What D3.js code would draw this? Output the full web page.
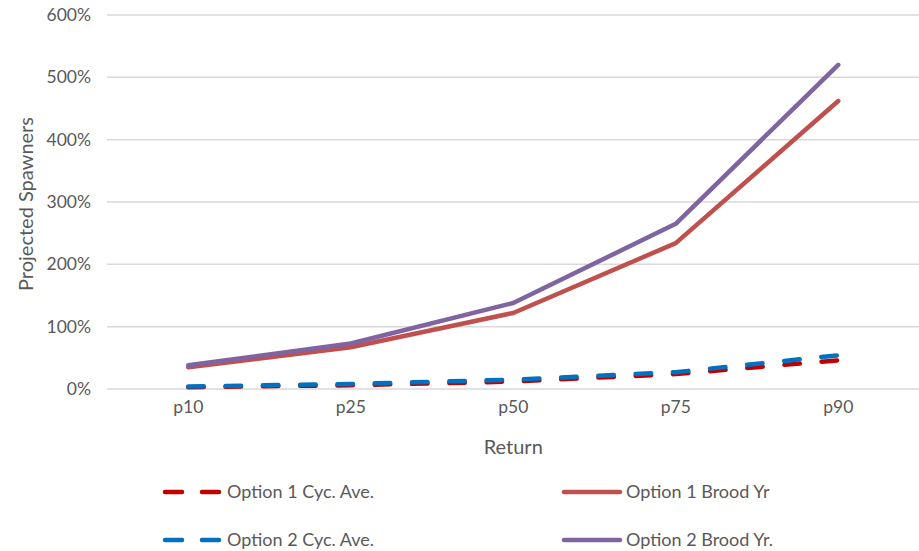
<!DOCTYPE html>
<html>
<head>
<meta charset="utf-8">
<script src="https://cdn.jsdelivr.net/npm/d3@7"></script>
<style>
  html, body { margin: 0; padding: 0; background: #fff; }
  svg { display: block; font-family: Lato, "Open Sans", sans-serif; }
</style>
</head>
<body>
<svg id="chart" width="919" height="551"></svg>
<script>
// Return percentiles
const categories = ["p10", "p25", "p50", "p75", "p90"];

// Projected spawners, as a fraction of the baseline
const opt1CycAve   = [0.03, 0.06, 0.12, 0.24, 0.46];
const opt1BroodYr  = [0.35, 0.67, 1.22, 2.34, 4.62];
const opt2CycAve   = [0.04, 0.08, 0.15, 0.27, 0.54];
const opt2BroodYr  = [0.38, 0.73, 1.38, 2.65, 5.20];

const yTicks = [0, 1, 2, 3, 4, 5, 6];

const series = [
  { name: "Option 1 Cyc. Ave.", values: opt1CycAve,  color: "#C00000", dashed: true },
  { name: "Option 2 Cyc. Ave.", values: opt2CycAve,  color: "#0070C0", dashed: true },
  { name: "Option 1 Brood Yr",  values: opt1BroodYr, color: "#C0504D", dashed: false },
  { name: "Option 2 Brood Yr.", values: opt2BroodYr, color: "#8064A2", dashed: false }
];

const svg = d3.select("#chart");
const textColor = "#595959";

const x = d3.scaleBand().domain(categories).range([107, 919.5]);
const y = d3.scaleLinear().domain([0, 6]).range([389, 15]);

// Horizontal gridlines
svg.append("g")
  .selectAll("line")
  .data(yTicks)
  .join("line")
  .attr("x1", 107).attr("x2", 919)
  .attr("y1", d => y(d)).attr("y2", d => y(d))
  .attr("stroke", "#D9D9D9").attr("stroke-width", 1.5);

// Y axis labels
const yAxis = svg.append("g")
  .attr("transform", "translate(91,0)")
  .call(d3.axisLeft(y).tickValues(yTicks).tickFormat(d3.format(".0%")).tickSize(0).tickPadding(0));
yAxis.select(".domain").remove();
yAxis.selectAll("text").attr("fill", textColor).style("font-size", "17.5px").style("font-family", "Lato, sans-serif");

// X axis labels
const xAxis = svg.append("g")
  .attr("transform", "translate(0,401)")
  .call(d3.axisBottom(x).tickSize(0).tickPadding(0));
xAxis.select(".domain").remove();
xAxis.selectAll("text").attr("fill", textColor).style("font-size", "17.5px").style("font-family", "Lato, sans-serif");

// Axis titles
svg.append("text")
  .attr("x", x("p50") + x.bandwidth() / 2).attr("y", 454)
  .attr("text-anchor", "middle").attr("fill", textColor)
  .style("font-size", "20px").text("Return");

svg.append("text")
  .attr("transform", "translate(33,204) rotate(-90)")
  .attr("text-anchor", "middle").attr("fill", textColor)
  .style("font-size", "20px").text("Projected Spawners");

// Series lines
const line = d3.line()
  .x((d, i) => x(categories[i]) + x.bandwidth() / 2)
  .y(d => y(d));

svg.append("g")
  .selectAll("path")
  .data(series)
  .join("path")
  .attr("d", d => line(d.values))
  .attr("fill", "none")
  .attr("stroke", d => d.color)
  .attr("stroke-width", 4.5)
  .attr("stroke-linejoin", "round")
  .attr("stroke-linecap", "round")
  .attr("stroke-dasharray", d => d.dashed ? "15.5 21.8" : null);

// Legend
const legendItems = [
  { s: series[0], lx: 163, ty: 492 },
  { s: series[2], lx: 562, ty: 492 },
  { s: series[1], lx: 163, ty: 540 },
  { s: series[3], lx: 562, ty: 540 }
];

const lg = svg.append("g");
legendItems.forEach(item => {
  const g = lg.append("g");
  if (item.s.dashed) {
    g.append("line")
      .attr("x1", item.lx + 2).attr("x2", item.lx + 19)
      .attr("y1", item.ty).attr("y2", item.ty)
      .attr("stroke", item.s.color).attr("stroke-width", 4.5).attr("stroke-linecap", "round");
    g.append("line")
      .attr("x1", item.lx + 39).attr("x2", item.lx + 56)
      .attr("y1", item.ty).attr("y2", item.ty)
      .attr("stroke", item.s.color).attr("stroke-width", 4.5).attr("stroke-linecap", "round");
  } else {
    g.append("line")
      .attr("x1", item.lx + 2).attr("x2", item.lx + 58)
      .attr("y1", item.ty).attr("y2", item.ty)
      .attr("stroke", item.s.color).attr("stroke-width", 4.5).attr("stroke-linecap", "round");
  }
  g.append("text")
    .attr("x", item.lx + 64).attr("y", item.ty)
    .attr("dy", "0.35em")
    .attr("fill", textColor)
    .style("font-size", "18px")
    .text(item.s.name);
});
</script>
</body>
</html>
